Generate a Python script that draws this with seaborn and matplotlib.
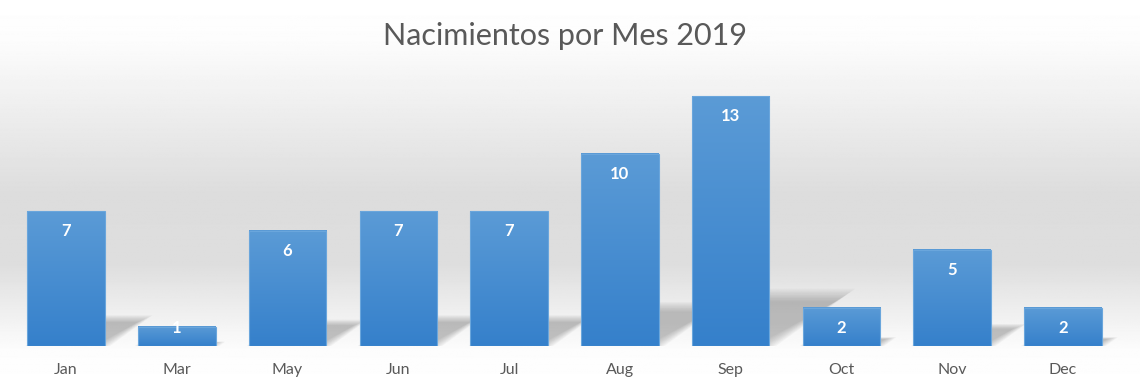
import numpy as np
import pandas as pd
import matplotlib
matplotlib.use("Agg")
import matplotlib.pyplot as plt
import seaborn as sns
from matplotlib.colors import LinearSegmentedColormap

months = ["Jan", "Mar", "May", "Jun", "Jul", "Aug", "Sep", "Oct", "Nov", "Dec"]
births = [7, 1, 6, 7, 7, 10, 13, 2, 5, 2]
title = "Nacimientos por Mes 2019"

df = pd.DataFrame({"Mes": months, "Nacimientos": births})

sns.set_theme(style="white")
plt.rcParams["font.family"] = ["Lato", "DejaVu Sans"]

W, H = 1140, 389
fig = plt.figure(figsize=(W / 100, H / 100), dpi=100)

# background gradient (white -> grey -> white)
bg = fig.add_axes([0, 0, 1, 1], zorder=0)
ys = np.linspace(0, 1, 400)  # 0 = top
prof = np.interp(ys, [0, 0.1, 0.5, 0.68, 0.9, 1.0], [1.0, 0.99, 0.865, 0.87, 0.99, 1.0])
bg.imshow(prof[:, None] * np.ones((1, 10)), cmap="gray", vmin=0, vmax=1,
          aspect="auto", extent=[0, 1, 0, 1])
bg.set_axis_off()

left, right = 10.6 / W, 1118.4 / W
bottom = 1 - 346 / H
top_px = 346 - 14 * (250 / 13)
ax = fig.add_axes([left, bottom, right - left, (346 - top_px) / H], zorder=1)
ax.patch.set_alpha(0)

sns.barplot(data=df, x="Mes", y="Nacimientos", ax=ax, color="#4a8fd4",
            width=0.70, saturation=1)
ax.set_ylim(0, 14)
ax.set_xlim(-0.5, len(months) - 0.5)

# gradient fill on bars + soft perspective shadows
cmap = LinearSegmentedColormap.from_list("bar", ["#3580cb", "#5b9bd6"])
grad = np.linspace(0, 1, 256)[:, None]
for p in ax.patches:
    x0, y0 = p.get_x(), p.get_y()
    w, h = p.get_width(), p.get_height()
    p.set_facecolor("none")
    p.set_edgecolor("#6aa6dc")
    p.set_linewidth(0.8)
    p.set_zorder(3)
    ax.imshow(grad, cmap=cmap, aspect="auto", origin="lower",
              extent=[x0, x0 + w, y0, y0 + h], zorder=2)
    hs = 0.21 * h
    dx = 0.26 * hs
    base = np.array([(x0, 0.0), (x0 + w, 0.0), (x0 + w + dx, hs), (x0 + dx, hs)])
    cen = base.mean(axis=0)
    for k in range(9):
        f = 1.18 - 0.06 * k
        pts = cen + (base - cen) * np.array([1 + (f - 1) * 0.5, f])
        poly = plt.Polygon(pts, closed=True, facecolor="#505050", alpha=0.045,
                           edgecolor="none", zorder=1.5)
        ax.add_patch(poly)

for i, v in enumerate(births):
    yl = v - 1.04 if v >= 2 else v - 0.05
    ax.text(i, yl, str(v), ha="center", va="center",
            color="white", fontsize=12, fontweight="bold", zorder=5)

ax.set_xlabel("")
ax.set_ylabel("")
ax.set_yticks([])
ax.tick_params(axis="x", length=0, pad=12, labelsize=11.5, labelcolor="#595959")
for s in ax.spines.values():
    s.set_visible(False)

fig.text(565 / W, 1 - 36 / H, title, ha="center", va="center",
         fontsize=22, color="#595959")

fig.savefig("out.png", dpi=100)
